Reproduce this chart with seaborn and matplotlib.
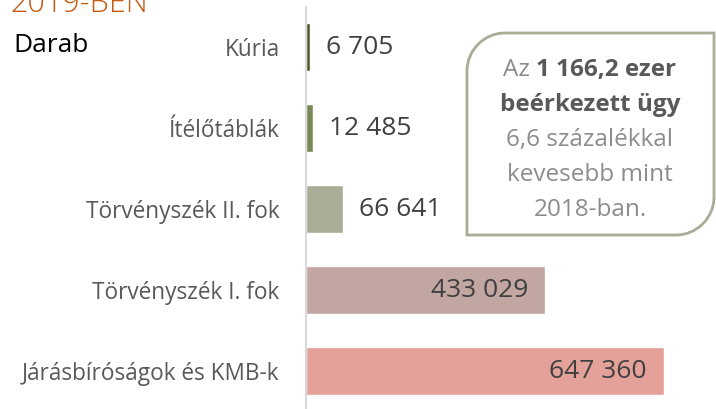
import matplotlib
matplotlib.use("Agg")
import matplotlib.pyplot as plt
import matplotlib.path as mpath
import matplotlib.patches as mpatches
import matplotlib.transforms as mtransforms
import seaborn as sns
import pandas as pd

# data
categories = ["Kúria", "Ítélőtáblák", "Törvényszék II. fok", "Törvényszék I. fok", "Járásbíróságok és KMB-k"]
values = [6705, 12485, 66641, 433029, 647360]
value_labels = ["6 705", "12 485", "66 641", "433 029", "647 360"]
bar_colors = ["#4F5B2E", "#7A8A55", "#A8AD98", "#C2A6A2", "#E4A199"]
inside = [False, False, False, True, True]

title = "2019-BEN"
unit = "Darab"
box_lines = ["6,6 százalékkal", "kevesebb mint", "2018-ban."]

sns.set_theme(style="white")
plt.rcParams["font.family"] = ["Open Sans", "DejaVu Sans"]

df = pd.DataFrame({"cat": categories, "val": values})

fig = plt.figure(figsize=(7.16, 4.09), dpi=100)
ax = fig.add_axes([306 / 716, -2.5 / 409, 410 / 716, 405 / 409])

sns.barplot(data=df, y="cat", x="val", hue="cat", palette=bar_colors,
            legend=False, width=0.6, ax=ax, saturation=1)

ax.set_xlim(0, 647360 * 410 / 358)
ax.set_ylim(4.5, -0.5)
ax.set_xlabel("")
ax.set_ylabel("")
ax.set_xticks([])

for s in ["top", "right", "bottom"]:
    ax.spines[s].set_visible(False)
ax.spines["left"].set_color("#D9D9D9")
ax.spines["left"].set_linewidth(1.5)

ax.set_yticks(range(len(categories)))
ax.set_yticklabels(categories, fontsize=16.3, color="#595959")
ax.tick_params(axis="y", which="major", length=0, pad=19)
ax.set_yticks([i - 0.5 for i in range(len(categories))], minor=True)
ax.tick_params(axis="y", which="minor", length=5, width=1.5, color="#D9D9D9")

for i, (v, lab, ins) in enumerate(zip(values, value_labels, inside)):
    if ins:
        ax.annotate(lab, (v, i), xytext=(-12.5, 0), textcoords="offset points",
                    ha="right", va="center", fontsize=19, color="#404040")
    else:
        ax.annotate(lab, (v, i), xytext=(11.5, 0), textcoords="offset points",
                    ha="left", va="center", fontsize=19, color="#404040")

# title and unit
fig.text(10 / 716, 1 - 12 / 409, title, fontsize=22, color="#C55A11",
         ha="left", va="baseline", fontweight="light")
fig.text(13 / 716, 1 - 52 / 409, unit, fontsize=19, color="#000000",
         ha="left", va="baseline")

# callout box with rounded top-left and bottom-right corners (pixel coords, y down)
px = mtransforms.Affine2D().scale(1 / 100, -1 / 100).translate(0, 4.09) + fig.dpi_scale_trans
x0, x1, y0, y1, r = 467, 714, 33, 235, 38
k = 0.55
verts = [
    (x0, y0 + r),
    (x0, y0 + r - k * r), (x0 + r - k * r, y0), (x0 + r, y0),
    (x1, y0),
    (x1, y1 - r),
    (x1, y1 - r + k * r), (x1 - r + k * r, y1), (x1 - r, y1),
    (x0, y1),
    (x0, y0 + r),
]
codes = [mpath.Path.MOVETO,
         mpath.Path.CURVE4, mpath.Path.CURVE4, mpath.Path.CURVE4,
         mpath.Path.LINETO, mpath.Path.LINETO,
         mpath.Path.CURVE4, mpath.Path.CURVE4, mpath.Path.CURVE4,
         mpath.Path.LINETO, mpath.Path.CLOSEPOLY]
box = mpatches.PathPatch(mpath.Path(verts, codes), transform=px,
                         facecolor="white", edgecolor="#A8AD98", linewidth=2)
fig.add_artist(box)

cx = 590
fs_box = 17.5
# first line: normal + bold
renderer = fig.canvas.get_renderer()
ta = fig.text(0, 0, "Az ", fontsize=fs_box, color="#8C8C8C",
              ha="left", va="baseline", transform=px)
tb = fig.text(0, 0, "1 166,2 ezer", fontsize=fs_box, color="#595959", fontweight="bold",
              ha="left", va="baseline", transform=px)
wa = ta.get_window_extent(renderer).width
wb = tb.get_window_extent(renderer).width
start = cx - (wa + wb) / 2
ta.set_position((start, 76))
tb.set_position((start + wa, 76))

fig.text(cx, 111, "beérkezett ügy", fontsize=fs_box, color="#595959", fontweight="bold",
         ha="center", va="baseline", transform=px)
for j, line in enumerate(box_lines):
    fig.text(cx, 146 + 35 * j, line, fontsize=fs_box, color="#8C8C8C",
             ha="center", va="baseline", transform=px)

fig.savefig("out.png", dpi=100)
